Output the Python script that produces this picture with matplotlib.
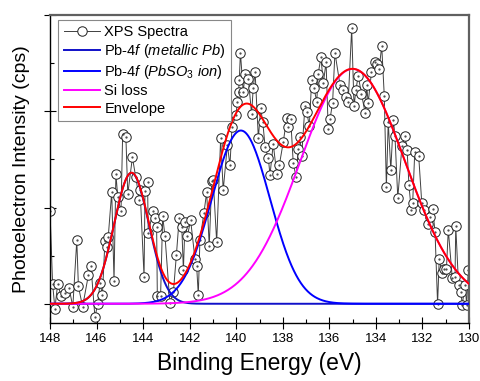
import numpy as np
import matplotlib
matplotlib.use("Agg")
import matplotlib.pyplot as plt
from matplotlib.ticker import MultipleLocator

plt.rcParams['font.family'] = ['Liberation Sans', 'DejaVu Sans']
plt.rcParams['mathtext.fontset'] = 'custom'
plt.rcParams['mathtext.rm'] = 'Liberation Sans'
plt.rcParams['mathtext.it'] = 'Liberation Sans:italic'

# measured spectrum (binding energy in eV, intensity in arb. units)
energy = [148.00, 147.89, 147.79, 147.67, 147.53, 147.36, 147.18, 147.02, 146.85, 146.78,
          146.60, 146.35, 146.24, 146.07, 145.95, 145.85, 145.75, 145.64, 145.56, 145.50,
          145.35, 145.25, 145.17, 145.09, 144.95, 144.88, 144.74, 144.66, 144.46, 144.32,
          144.16, 144.13, 143.96, 143.92, 143.81, 143.78, 143.58, 143.49, 143.42, 143.39,
          143.25, 143.16, 143.06, 142.85, 142.70, 142.57, 142.45, 142.34, 142.27, 142.20,
          142.10, 141.96, 141.77, 141.70, 141.63, 141.56, 141.39, 141.27, 141.16, 141.05,
          140.99, 140.84, 140.67, 140.56, 140.38, 140.27, 140.18, 140.01, 139.95, 139.90,
          139.87, 139.82, 139.70, 139.62, 139.48, 139.34, 139.27, 139.19, 139.05, 138.95,
          138.86, 138.76, 138.62, 138.55, 138.41, 138.26, 138.15, 137.98, 137.83, 137.76,
          137.66, 137.55, 137.43, 137.33, 137.26, 137.19, 137.05, 136.97, 136.86, 136.76,
          136.66, 136.54, 136.48, 136.36, 136.26, 136.14, 136.05, 135.97, 135.86, 135.76,
          135.54, 135.40, 135.29, 135.19, 135.04, 134.94, 134.86, 134.76, 134.62, 134.46,
          134.40, 134.33, 134.19, 134.04, 133.95, 133.86, 133.75, 133.64, 133.55, 133.47,
          133.36, 133.25, 133.18, 133.06, 132.88, 132.75, 132.66, 132.58, 132.48, 132.42,
          132.33, 132.16, 132.03, 131.92, 131.78, 131.68, 131.56, 131.46, 131.35, 131.28,
          131.15, 131.06, 130.97, 130.89, 130.72, 130.60, 130.57, 130.45, 130.35, 130.29,
          130.17, 130.10, 130.03]
intensity = [0.96, 0.21, -0.05, 0.21, 0.08, 0.11, 0.16, -0.03, 0.66, 0.18,
             -0.03, 0.30, 0.39, -0.14, 0.00, 0.22, 0.09, 0.65, 0.59, 0.69,
             1.16, 0.24, 1.35, 1.11, 0.96, 1.76, 1.73, 1.14, 1.52, 1.32,
             1.08, 1.18, 0.28, 1.17, 1.26, 0.73, 0.96, 0.89, 0.80, 0.08,
             0.08, 0.91, 0.70, 0.01, 0.12, 0.51, 0.89, 0.80, 0.35, 0.85,
             0.70, 0.87, 0.46, 0.39, 0.09, 0.66, 0.94, 1.16, 0.60, 1.28,
             1.29, 0.64, 1.72, 1.18, 1.65, 1.44, 1.84, 1.96, 2.10, 2.20,
             2.32, 2.61, 2.20, 2.39, 2.34, 1.97, 2.24, 2.41, 1.72, 2.03,
             1.89, 1.63, 1.51, 1.34, 1.66, 1.35, 1.44, 1.68, 1.93, 1.84,
             1.92, 1.46, 1.32, 1.61, 1.73, 1.53, 2.05, 1.99, 1.85, 2.32,
             2.24, 2.10, 2.39, 2.56, 2.29, 2.51, 1.82, 1.92, 2.09, 2.61,
             2.27, 2.22, 2.15, 2.10, 2.86, 2.05, 2.22, 2.37, 2.18, 1.98,
             2.27, 2.09, 2.41, 2.51, 2.49, 2.44, 2.68, 2.16, 1.21, 1.89,
             1.39, 1.91, 1.74, 1.10, 1.64, 1.74, 1.60, 1.23, 0.97, 1.05,
             1.58, 1.53, 1.05, 0.97, 0.83, 0.90, 0.98, 0.75, 0.00, 0.46,
             0.32, 0.36, 0.36, 0.77, 0.27, 0.28, 0.81, 0.20, 0.12, -0.01,
             0.20, -0.01, 0.35]

# fitted peak components: metallic Pb, PbSO3, Si loss
peak_names = ['Pb-$\\mathit{4f}$ $\\mathit{(metallic\\ Pb)}$',
              'Pb-$\\mathit{4f}$ $\\mathit{(PbSO_3\\ ion)}$',
              'Si loss']
peak_center = [144.5, 139.8, 135.0]
peak_height = [1.36, 1.80, 2.44]
peak_sigma = [0.75, 1.25, 2.25]
peak_color = ['#1010c8', '#0000ff', '#ff00ff']

e_fit = np.linspace(148, 130, 721)
comps = [h * np.exp(-(e_fit - c) ** 2 / (2 * s ** 2))
         for c, h, s in zip(peak_center, peak_height, peak_sigma)]
envelope = np.sum(comps, axis=0)

fig = plt.figure(figsize=(4.8, 3.81), dpi=100)
ax = fig.add_axes([0.1042, 0.1522, 0.8729, 0.8084])

ax.plot(energy, intensity, color='#404040', lw=0.7, marker='o', ms=6.8,
        mfc='white', mec='#202020', mew=0.7, label='XPS Spectra', zorder=2)
ax.plot(energy, intensity, ls='none', marker='.', ms=1.2, color='#404040', zorder=2.1)

for comp, name, col in zip(comps, peak_names, peak_color):
    ax.plot(e_fit, comp, color=col, lw=1.4, label=name, zorder=3)
ax.plot(e_fit, envelope, color='#ff0000', lw=1.4, label='Envelope', zorder=4)

ax.set_xlim(148, 130)
ax.set_ylim(-0.2, 3.0)
ax.xaxis.set_major_locator(MultipleLocator(2))
ax.xaxis.set_minor_locator(MultipleLocator(1))
ax.yaxis.set_major_locator(MultipleLocator(1))
ax.yaxis.set_minor_locator(MultipleLocator(0.5))
ax.tick_params(which='major', direction='inout', length=9, width=0.8, labelsize=9.5)
ax.tick_params(which='minor', direction='in', length=3, width=0.8)
ax.tick_params(axis='y', labelleft=False)
ax.tick_params(axis='x', pad=3)

for side in ['left', 'bottom']:
    ax.spines[side].set_linewidth(1.0)
for side in ['top', 'right']:
    ax.spines[side].set_linewidth(1.6)
    ax.spines[side].set_color('#606060')

ax.set_xlabel('Binding Energy (eV)', fontsize=16.5, labelpad=5)
ax.set_ylabel('Photoelectron Intensity (cps)', fontsize=14, labelpad=10)

leg = ax.legend(loc='upper left', bbox_to_anchor=(0.02, 0.985), borderaxespad=0,
                fontsize=10.5, handlelength=2.5, handletextpad=0.3,
                labelspacing=0.22, borderpad=0.35, fancybox=False,
                edgecolor='#888888', framealpha=1)
leg.get_frame().set_linewidth(0.8)

fig.savefig('out.png', dpi=100)
